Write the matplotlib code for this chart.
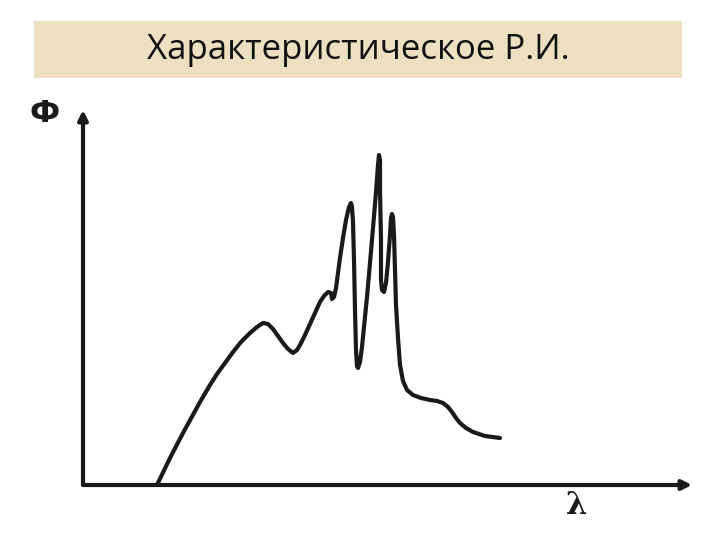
import matplotlib
matplotlib.use("Agg")
import matplotlib.pyplot as plt
from matplotlib.patches import Rectangle

# spectrum (arbitrary units)
lam = [74, 87, 100, 117, 127, 134, 142, 150, 158, 167, 174, 180, 185, 190, 195,
       200, 205, 210, 214, 217, 222, 227, 232, 237, 241, 245, 248, 249, 251, 253,
       255, 257, 260, 263, 266, 268, 269, 270, 271, 272, 273, 274, 275, 277, 279,
       281, 284, 287, 290, 293, 295, 296, 297, 297, 298, 298, 299, 301, 303, 305,
       307, 308, 309, 310, 311, 312, 313, 315, 317, 320, 324, 330, 338, 347, 354,
       360, 365, 369, 373, 377, 383, 390, 402, 417]
phi = [0, 27, 52, 83, 100, 111, 122, 133, 143, 152, 158, 162, 161, 156, 149,
       142, 136, 132, 135, 140, 150, 161, 172, 183, 189, 193, 192, 186, 188, 197,
       212, 227, 247, 265, 278, 282, 278, 263, 225, 175, 135, 119, 117, 123, 138,
       158, 188, 222, 257, 293, 320, 330, 325, 295, 245, 205, 195, 193, 202, 223,
       250, 267, 271, 268, 250, 215, 180, 147, 120, 104, 95, 90, 87, 85, 84,
       82, 78, 73, 67, 62, 57, 53, 49, 47]

title = "Характеристическое Р.И."
ylabel = "Ф"
xlabel = "λ"

W, H = 720, 540
fig = plt.figure(figsize=(7.2, 5.4), dpi=100)
fig.patch.set_facecolor("white")

# title banner
fig.patches.append(Rectangle((34 / W, 1 - 78 / H), 648 / W, 57 / H,
                             transform=fig.transFigure, facecolor="#eddfc1",
                             edgecolor="none", zorder=0))
fig.text(358 / W, 1 - 50 / H, title, ha="center", va="center",
         fontsize=25, family=["Open Sans", "DejaVu Sans"], color="#111111")

ax = fig.add_axes([83 / W, 1 - 485 / H, 609 / W, 375 / H])
ax.set_xlim(0, 609)
ax.set_ylim(0, 375)
ax.axis("off")

ax.plot(lam, phi, color="#1a1a1a", lw=3, solid_joinstyle="round",
        solid_capstyle="round", clip_on=False)

arrow = dict(arrowstyle="-|>", lw=3, color="#1a1a1a", mutation_scale=14,
             shrinkA=0, shrinkB=0)
ax.annotate("", xy=(1, 0), xytext=(0, 0), xycoords="axes fraction",
            arrowprops=arrow)
ax.annotate("", xy=(0, 1), xytext=(0, 0), xycoords="axes fraction",
            arrowprops=arrow)

fig.text(45 / W, 1 - 113 / H, ylabel, ha="center", va="center", fontsize=22,
         fontweight="bold", family="DejaVu Sans", color="#1a1a1a")
fig.text(577 / W, 1 - 505 / H, xlabel, ha="center", va="center", fontsize=22,
         fontweight="bold", family="DejaVu Serif", color="#1a1a1a")

fig.savefig("out.png", dpi=100)
